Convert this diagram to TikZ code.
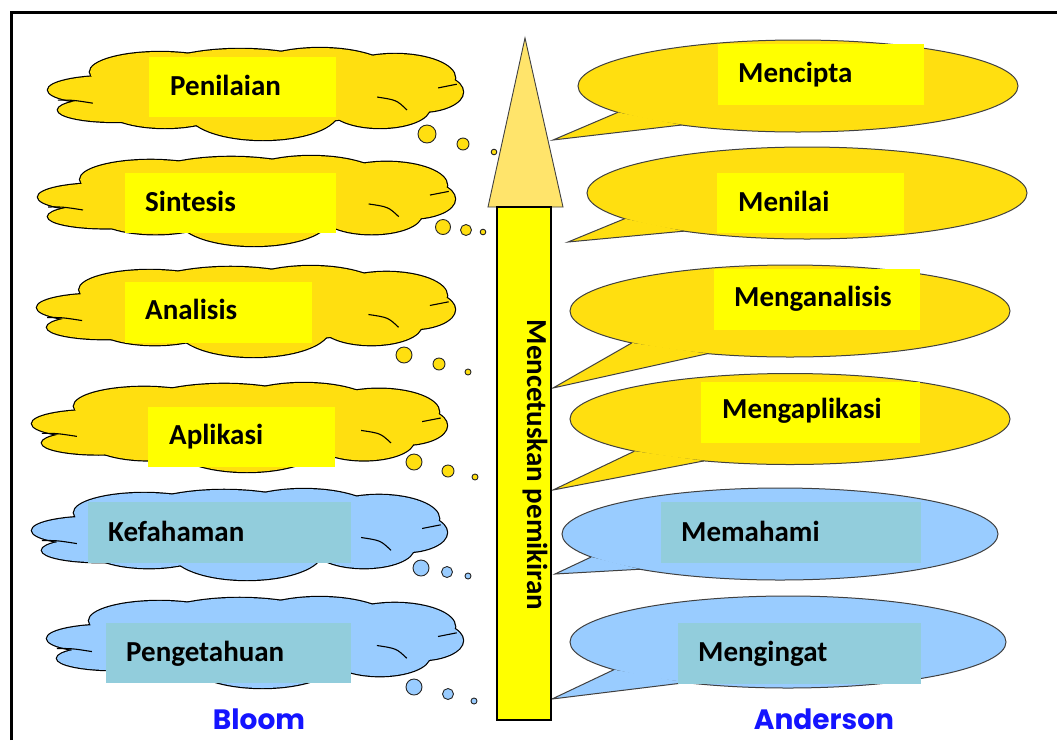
\documentclass[tikz,border=0pt]{standalone}
\usepackage{fontspec}
\setmainfont{Carlito}
\newfontfamily\bloomfont{Poppins}
\definecolor{cy}{HTML}{FFDF10}
\definecolor{ly}{HTML}{FFFF00}
\definecolor{cb}{HTML}{99CCFF}
\definecolor{lb}{HTML}{92CDDC}
\definecolor{hy}{HTML}{FFE46B}
\definecolor{bl}{HTML}{1414FF}
\tikzset{
  lbl/.style={font=\fontsize{29}{30}\selectfont\bfseries, anchor=base west, inner sep=0pt},
  bub/.style={draw=black!75, line width=1pt},
  puff/.style={draw=black!85, line width=0.9pt},
  author/.style={font=\bloomfont\fontsize{28}{30}\selectfont\bfseries, text=bl, anchor=base, inner sep=0pt}
}
\def\cloudlist{0.149/0.462/0.149/0.151, 0.161/0.677/0.137/0.129, 0.270/0.269/0.169/0.215,
  0.463/0.301/0.217/0.280, 0.655/0.301/0.181/0.290, 0.836/0.333/0.145/0.258,
  0.896/0.484/0.104/0.215, 0.800/0.656/0.120/0.215, 0.518/0.699/0.181/0.301,
  0.282/0.656/0.145/0.215, 0.5/0.516/0.36/0.32}
\newcommand\cloudshape[5]{%
  \begin{scope}[shift={(#1,#2)}, xscale=#3, yscale=#4]
    \foreach \a/\b/\c/\d in \cloudlist {\draw[black, line width=2.4pt] (\a,\b) ellipse [x radius=\c, y radius=\d];}
    \foreach \a/\b/\c/\d in \cloudlist {\fill[#5] (\a,\b) ellipse [x radius=\c, y radius=\d];}
    \draw[black, line width=1.1pt] (0.024,0.571) .. controls (0.06,0.57) .. (0.108,0.604);
    \draw[black, line width=1.1pt] (0.793,0.538) .. controls (0.84,0.57) .. (0.865,0.677);
    \draw[black, line width=1.1pt] (0.94,0.44) -- (0.985,0.40);
  \end{scope}}
\newcommand\speech[9]{%
  \draw[bub, fill=#9] (#1,#2) ellipse [x radius=#3, y radius=#4];
  \fill[#9] ({#1+#3*cos(#5)},{#2+#4*sin(#5)}) -- (#7,#8) -- ({#1+#3*cos(#6)},{#2+#4*sin(#6)}) -- cycle;
  \draw[bub, line join=miter] ({#1+#3*cos(#5)},{#2+#4*sin(#5)}) -- (#7,#8) -- ({#1+#3*cos(#6)},{#2+#4*sin(#6)});}
\begin{document}
\begin{tikzpicture}[x=1pt, y=-1pt]
\useasboundingbox (0,0) rectangle (1057,740);
\fill[white] (0,0) rectangle (1057,740);
% frame
\draw[line width=3pt] (11,740) -- (11,12) -- (1057,12);
% clouds
\cloudshape{48}{47}{415}{93}{cy}
\cloudshape{38}{155}{417}{91}{cy}
\cloudshape{37}{265}{418}{92}{cy}
\cloudshape{32}{382}{415}{90}{cy}
\cloudshape{32}{488}{415}{92}{cb}
\cloudshape{47}{596}{416}{92}{cb}
% thought bubbles
\foreach \x/\y/\r/\c in {427/134/9/cy, 463/144/6/cy, 494/152/2.8/cy,
  443/227/7.5/cy, 466/230/5.5/cy, 483/232/2.8/cy,
  404/355/8/cy, 439/364/6/cy, 468/372/3/cy,
  414/462/8/cy, 448/471/6/cy, 475/477/3/cy,
  421/568/8/cb, 447/572/5.5/cb, 468/576/3/cb,
  414/687/8/cb, 448/694/5.5/cb, 474/701/3/cb}
  {\draw[puff, fill=\c] (\x,\y) circle [radius=\r];}
% speech bubbles
\speech{798}{86}{220}{46}{145}{122}{553}{140}{cy}
\speech{807}{193}{220}{46}{146}{124}{568}{242}{cy}
\speech{790}{311}{220}{46}{136}{112}{553}{388}{cy}
\speech{790}{419}{220}{45.5}{135}{113}{553}{490}{cy}
\speech{780}{534}{218}{46}{150}{130}{555}{574}{cb}
\speech{788}{642}{218}{46}{143}{118}{552}{699}{cb}
% arrow
\draw[black!75, line width=0.9pt, fill=hy] (525,38) -- (563,207) -- (488,207) -- cycle;
\draw[black, line width=2.2pt, fill=ly] (497,207) rectangle (551,720);
\node[font=\fontsize{29}{30}\selectfont\bfseries, rotate=-90, anchor=base, inner sep=0pt] (vt) at (527,465) {Mencetuskan pemikiran};
% label boxes
\fill[ly] (149,57) rectangle (336,117);
\fill[ly] (125,173) rectangle (336,233);
\fill[ly] (125,282) rectangle (312,343);
\fill[ly] (148,407) rectangle (335,467);
\fill[lb] (88,502) rectangle (351,563);
\fill[lb] (106,623) rectangle (351,683);
\fill[ly] (718,44) rectangle (924,105);
\fill[ly] (717,173) rectangle (904,233);
\fill[ly] (714,269) rectangle (920,330);
\fill[ly] (701,382) rectangle (920,443);
\fill[lb] (661,502) rectangle (921,563);
\fill[lb] (678,623) rectangle (921,684);
% labels
\node[lbl] (l1) at (170,95) {Penilaian};
\node[lbl] (l2) at (145,211) {Sintesis};
\node[lbl] (l3) at (145,319) {Analisis};
\node[lbl] (l4) at (169,444) {Aplikasi};
\node[lbl] (l5) at (108,541) {Kefahaman};
\node[lbl] (l6) at (126,661) {Pengetahuan};
\node[lbl] (r1) at (738,82) {Mencipta};
\node[lbl] (r2) at (738,211) {Menilai};
\node[lbl] (r3) at (734,306) {Menganalisis};
\node[lbl] (r4) at (722,418) {Mengaplikasi};
\node[lbl] (r5) at (681,541) {Memahami};
\node[lbl] (r6) at (698,661) {Mengingat};
\node[author] (bloom) at (259,729) {Bloom};
\node[author] (anderson) at (824,729) {Anderson};
\end{tikzpicture}
\end{document}
